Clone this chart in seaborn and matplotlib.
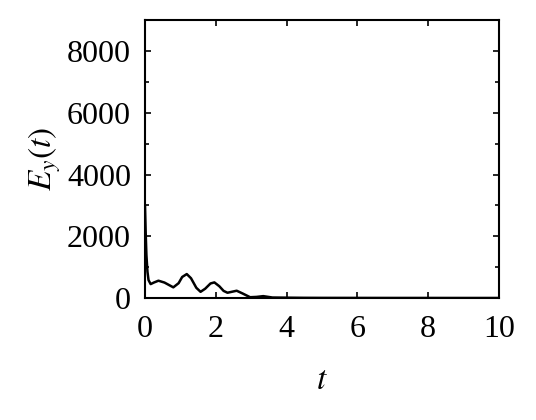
import numpy as np
import pandas as pd
import seaborn as sns
import matplotlib.pyplot as plt
from matplotlib.ticker import MultipleLocator

# E_y(t)
t = [0.0, 0.02, 0.04, 0.07, 0.1, 0.16, 0.25, 0.38, 0.55, 0.8, 0.95, 1.05, 1.18, 1.3, 1.45,
     1.57, 1.7, 1.85, 1.96, 2.1, 2.22, 2.33, 2.45, 2.59, 2.75, 2.97, 3.15, 3.34, 3.6, 4.0,
     4.5, 5.0, 6.0, 7.0, 8.0, 9.0, 10.0]
ey = [3000, 2100, 1400, 850, 580, 450, 500, 560, 500, 345, 480, 680, 775, 640, 330,
      200, 300, 470, 505, 380, 230, 170, 200, 235, 150, 25, 35, 60, 15, 10,
      5, 3, 2, 1, 1, 0, 0]

df = pd.DataFrame({'t': t, 'ey': ey})

sns.set_style('ticks')
plt.rcParams['font.family'] = ['Liberation Serif', 'DejaVu Serif']
plt.rcParams['mathtext.fontset'] = 'stix'
plt.rcParams['text.color'] = 'black'
plt.rcParams['axes.labelcolor'] = 'black'
plt.rcParams['xtick.color'] = 'black'
plt.rcParams['ytick.color'] = 'black'

fig = plt.figure(figsize=(5.36, 4.2), dpi=100)
ax = fig.add_axes([0.2705, 0.2905, 0.6605, 0.6615])
sns.lineplot(data=df, x='t', y='ey', ax=ax, color='black', linewidth=1.8)

ax.set_xlim(0, 10)
ax.set_ylim(0, 9000)
ax.set_xticks([0, 2, 4, 6, 8, 10])
ax.set_yticks([0, 2000, 4000, 6000, 8000])
ax.yaxis.set_minor_locator(MultipleLocator(1000))
ax.tick_params(which='both', direction='in', top=True, right=True, labelsize=23, width=1.2)
ax.tick_params(which='major', length=4)
ax.tick_params(axis='x', pad=12)
ax.tick_params(axis='y', pad=10)
ax.tick_params(which='minor', length=3)
for s in ax.spines.values():
    s.set_linewidth(1.5)
    s.set_color('black')
ax.set_xlabel('$t$', fontsize=24, labelpad=16)
ax.set_ylabel('$E_y(t)$', fontsize=24, labelpad=3)

fig.savefig('out.png', dpi=100)
